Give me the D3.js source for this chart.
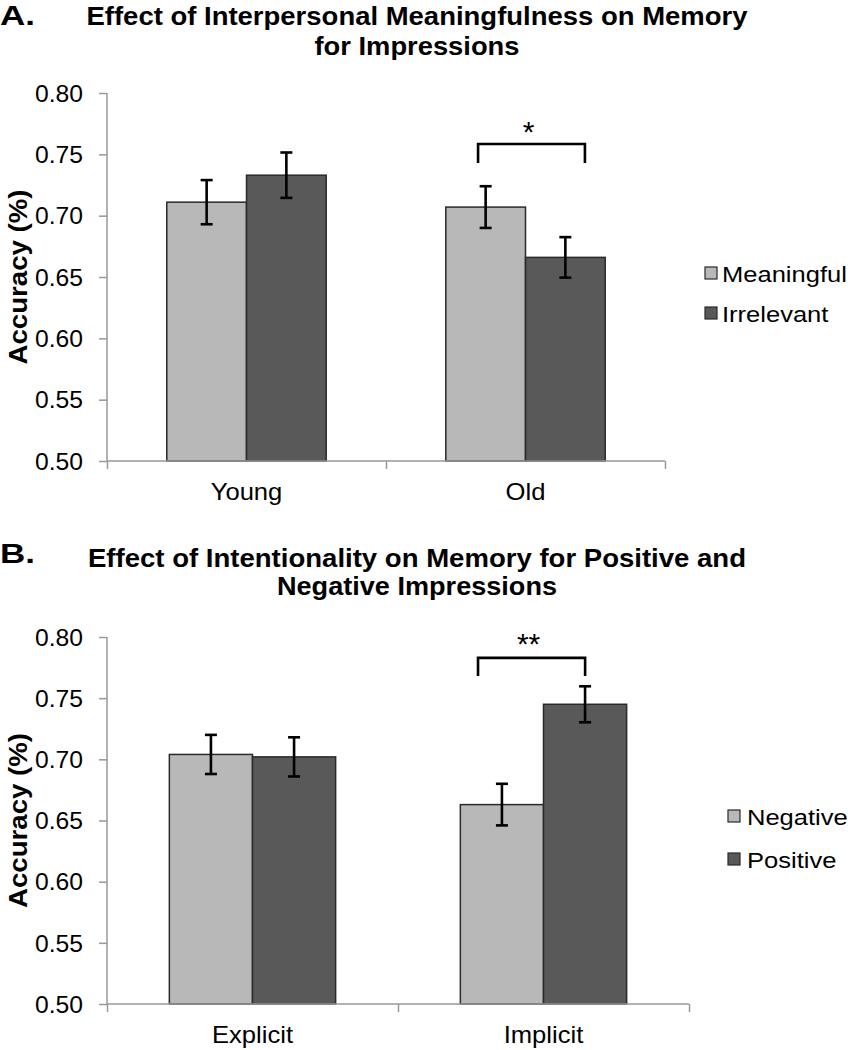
<!DOCTYPE html>
<html><head><meta charset="utf-8">
<script src="https://cdn.jsdelivr.net/npm/d3@7"></script>
<style>body{margin:0;background:#fff} svg{display:block}</style>
</head><body>
<svg id="c" width="848" height="1050"></svg>
<script>
// ---------- data ----------
const tickValues = [0.50, 0.55, 0.60, 0.65, 0.70, 0.75, 0.80];
const tickLabels = ["0.50", "0.55", "0.60", "0.65", "0.70", "0.75", "0.80"];

const aCategories = ["Young", "Old"];
const aSeries = ["Meaningful", "Irrelevant"];
const aMeaningful = [0.711, 0.707];
const aIrrelevant = [0.733, 0.666];
const aMeaningfulErr = [0.018, 0.017];
const aIrrelevantErr = [0.0185, 0.0165];
const aTitle = ["Effect of Interpersonal Meaningfulness on Memory", "for Impressions"];
const aSig = "*";

const bCategories = ["Explicit", "Implicit"];
const bSeries = ["Negative", "Positive"];
const bNegative = [0.704, 0.663];
const bPositive = [0.702, 0.745];
const bNegativeErr = [0.016, 0.017];
const bPositiveErr = [0.016, 0.0147];
const bTitle = ["Effect of Intentionality on Memory for Positive and", "Negative Impressions"];
const bSig = "**";

const yLabel = "Accuracy (%)";
const seriesColors = ["#b8b8b8", "#595959"];

// ---------- drawing ----------
const svg = d3.select("#c");
const FONT = "'Liberation Sans', Arial, Helvetica, sans-serif";

function stretch(sel, factor) {
  sel.each(function () {
    const w = this.getComputedTextLength();
    d3.select(this).attr("textLength", w * factor).attr("lengthAdjust", "spacingAndGlyphs");
  });
}
function fit(sel, width) {
  sel.attr("textLength", width).attr("lengthAdjust", "spacingAndGlyphs");
}

function drawPanel(cfg) {
  const g = svg.append("g");
  const y = d3.scaleLinear().domain([0.5, 0.8]).range([cfg.bottom, cfg.top]);
  const x0 = d3.scaleBand().domain(cfg.categories).range([cfg.left, cfg.right]).padding(0);
  const bw = x0.bandwidth();
  const gap = bw * 0.75 / 3.5;
  const x1 = d3.scaleBand().domain(cfg.series).range([gap, bw - gap]).padding(0);
  const xb = d3.scaleLinear().domain([0, cfg.categories.length]).range([cfg.left, cfg.right]);

  // panel letter + title
  g.append("text").attr("x", 0).attr("y", cfg.letterY)
    .attr("font-family", FONT).attr("font-weight", "bold").attr("font-size", 27)
    .text(cfg.letter).call(fit, 35);
  cfg.title.forEach((t, i) => {
    g.append("text").attr("x", 417).attr("y", cfg.titleY[i]).attr("text-anchor", "middle")
      .attr("font-family", FONT).attr("font-weight", "bold").attr("font-size", 25)
      .text(t).call(fit, cfg.titleW[i]);
  });

  // y axis
  const ya = g.append("g").attr("transform", `translate(${cfg.left},0)`)
    .call(d3.axisLeft(y).tickValues(tickValues).tickFormat((d, i) => tickLabels[i]).tickSize(8).tickPadding(16));
  ya.select(".domain").attr("stroke", "#999").attr("stroke-width", 1.5).attr("d", `M0,${cfg.bottom}V${cfg.top}`);
  ya.selectAll(".tick line").attr("stroke", "#999").attr("stroke-width", 1.5);
  ya.selectAll(".tick text").attr("font-family", FONT).attr("font-size", 23).attr("fill", "#000")
    .attr("dy", "0.36em").call(fit, 48);

  // y label
  g.append("text").attr("transform", `translate(27,${(cfg.top + cfg.bottom) / 2}) rotate(-90)`)
    .attr("text-anchor", "middle").attr("font-family", FONT).attr("font-weight", "bold").attr("font-size", 25)
    .text(yLabel).call(fit, 175);

  // bars
  const data = cfg.categories.map((c, i) => cfg.series.map((s, j) => ({
    cat: c, ser: s, j, v: cfg.values[j][i], e: cfg.errors[j][i]
  })));
  const grp = g.selectAll(".grp").data(data).join("g")
    .attr("transform", (d, i) => `translate(${x0(cfg.categories[i])},0)`);
  grp.selectAll("rect").data(d => d).join("rect")
    .attr("x", d => x1(d.ser)).attr("width", x1.bandwidth())
    .attr("y", d => y(d.v)).attr("height", d => y(0.5) - y(d.v))
    .attr("fill", d => seriesColors[d.j]).attr("stroke", "#2a2a2a").attr("stroke-width", 1.5);

  // x axis (boundary ticks)
  const xa = g.append("g").attr("transform", `translate(0,${cfg.bottom})`)
    .call(d3.axisBottom(xb).tickValues(d3.range(cfg.categories.length + 1)).tickFormat("").tickSize(8));
  xa.select(".domain").attr("stroke", "#999").attr("stroke-width", 1.5).attr("d", `M${cfg.left},0H${cfg.right}`);
  xa.selectAll(".tick line").attr("stroke", "#999").attr("stroke-width", 1.5);
  const xl = g.append("g").attr("transform", `translate(0,${cfg.bottom})`)
    .call(d3.axisBottom(x0).tickSize(0).tickPadding(0));
  xl.select(".domain").remove();
  xl.selectAll(".tick text").attr("font-family", FONT).attr("font-size", 24).attr("fill", "#000")
    .attr("dy", 0).attr("y", 39).call(stretch, 1.066);

  // error bars
  const eb = grp.selectAll(".eb").data(d => d).join("g")
    .attr("stroke", "#000").attr("stroke-width", 2.6).attr("fill", "none");
  const cx = d => x1(d.ser) + x1.bandwidth() / 2;
  eb.append("line").attr("x1", cx).attr("x2", cx).attr("y1", d => y(d.v + d.e)).attr("y2", d => y(d.v - d.e));
  eb.append("line").attr("x1", d => cx(d) - 6).attr("x2", d => cx(d) + 6).attr("y1", d => y(d.v + d.e)).attr("y2", d => y(d.v + d.e));
  eb.append("line").attr("x1", d => cx(d) - 6).attr("x2", d => cx(d) + 6).attr("y1", d => y(d.v - d.e)).attr("y2", d => y(d.v - d.e));

  // significance bracket
  const ci = cfg.sig.cat;
  const bx0 = x0(cfg.categories[ci]) + bw * cfg.sig.from;
  const bx1 = x0(cfg.categories[ci]) + bw * cfg.sig.to;
  g.append("path")
    .attr("d", `M${bx0},${y(cfg.sig.legY)}V${y(cfg.sig.barY)}H${bx1}V${y(cfg.sig.legY)}`)
    .attr("fill", "none").attr("stroke", "#000").attr("stroke-width", 2.6);
  g.append("text").attr("x", (bx0 + bx1) / 2 - 3).attr("y", y(cfg.sig.barY) - cfg.sig.textOff)
    .attr("text-anchor", "middle").attr("font-family", FONT).attr("font-size", 30)
    .text(cfg.sig.label);

  // legend
  const lg = g.append("g");
  cfg.series.forEach((s, j) => {
    lg.append("rect").attr("x", cfg.legX).attr("y", cfg.legY[j]).attr("width", 12).attr("height", 12)
      .attr("fill", seriesColors[j]).attr("stroke", "#2a2a2a").attr("stroke-width", 1.2);
    lg.append("text").attr("x", cfg.legX + 12 + cfg.legGap).attr("y", cfg.legY[j] + 15)
      .attr("font-family", FONT).attr("font-size", 22).text(s).call(stretch, 1.16);
  });
}

drawPanel({
  letter: "A.", letterY: 25, title: aTitle, titleY: [25, 55], titleW: [661, 205],
  left: 107, right: 665, top: 93, bottom: 461,
  categories: aCategories, series: aSeries,
  values: [aMeaningful, aIrrelevant], errors: [aMeaningfulErr, aIrrelevantErr],
  sig: { cat: 1, from: 0.33, to: 0.713, barY: 0.7584, legY: 0.7429, label: aSig, textOff: 2.5 },
  legX: 705, legY: [267, 307], legGap: 5
});

drawPanel({
  letter: "B.", letterY: 563, title: bTitle, titleY: [567, 595], titleW: [658, 280],
  left: 107, right: 689, top: 637, bottom: 1004,
  categories: bCategories, series: bSeries,
  values: [bNegative, bPositive], errors: [bNegativeErr, bPositiveErr],
  sig: { cat: 1, from: 0.275, to: 0.643, barY: 0.7829, legY: 0.7682, label: bSig, textOff: 3.5 },
  legX: 728, legY: [810, 853], legGap: 7
});
</script>
</body></html>
